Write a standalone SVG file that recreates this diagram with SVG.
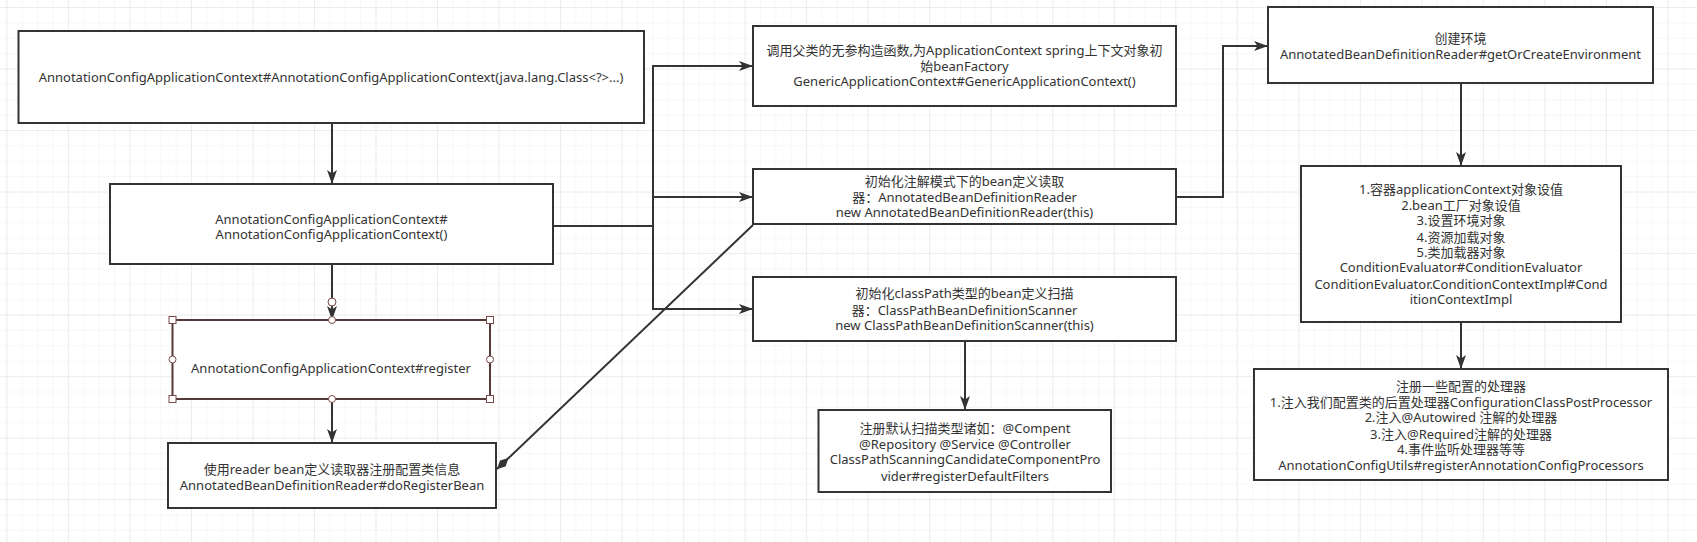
<svg xmlns="http://www.w3.org/2000/svg" width="1697" height="542" viewBox="0 0 1697 542">
<defs>
<pattern id="minor" x="6.4" y="7" width="15.38" height="15.38" patternUnits="userSpaceOnUse">
<path d="M0,0 L15.38,0 M0,0 L0,15.38" fill="none" stroke="#efefef" stroke-width="1"/>
</pattern>
<pattern id="major" x="6.4" y="7" width="61.52" height="61.52" patternUnits="userSpaceOnUse">
<path d="M0,0 L61.52,0 M0,0 L0,61.52" fill="none" stroke="#e3e3e3" stroke-width="1"/>
</pattern>
<marker id="arrow" markerUnits="userSpaceOnUse" markerWidth="16" markerHeight="12" refX="14" refY="5" orient="auto" overflow="visible">
<path d="M0,0 L14,5 L0,10 L3.5,5 Z" fill="#333"/>
</marker>
<marker id="diamond" markerUnits="userSpaceOnUse" markerWidth="18" markerHeight="10" refX="16" refY="4" orient="auto" overflow="visible">
<path d="M0,4 L8,0 L16,4 L8,8 Z" fill="#333"/>
</marker>
<style>
.box{fill:#fff;stroke:#333;stroke-width:2}
.sel{fill:#fff;stroke:#553838;stroke-width:2}
.h{fill:#fff;stroke:#7a4a4a;stroke-width:1}
.t{font-family:"Noto Sans","Noto Sans CJK SC",sans-serif;font-size:13px;fill:#333;text-anchor:middle}
.c{fill:none;stroke:#333;stroke-width:2}
</style>
</defs>
<rect width="1697" height="542" fill="#fff"/>
<rect width="1697" height="542" fill="url(#minor)"/>
<rect width="1697" height="542" fill="url(#major)"/>

<g id="connectors">
<path class="c" d="M332,123 L332,184" marker-end="url(#arrow)"/>
<path class="c" d="M332,264 L332,320" marker-end="url(#arrow)"/>
<path class="c" d="M332,399 L332,443" marker-end="url(#arrow)"/>
<path class="c" d="M553,226 L653,226 L653,66 L753,66" marker-end="url(#arrow)"/>
<path class="c" d="M553,226 L653,226 L653,197 L753,197" marker-end="url(#arrow)"/>
<path class="c" d="M553,226 L653,226 L653,309 L753,309" marker-end="url(#arrow)"/>
<path class="c" d="M1176,197 L1223,197 L1223,46 L1268,46" marker-end="url(#arrow)"/>
<path class="c" d="M965,341 L965,410" marker-end="url(#arrow)"/>
<path class="c" d="M1461,83 L1461,166" marker-end="url(#arrow)"/>
<path class="c" d="M1461,322 L1461,369" marker-end="url(#arrow)"/>
<path class="c" d="M753,225 L497,469" stroke-width="1.5" marker-end="url(#diamond)"/>
</g>

<g id="nodeA">
<rect class="box" x="18.5" y="31" width="625.5" height="92"/>
<text class="t" x="331" y="81.5">AnnotationConfigApplicationContext#AnnotationConfigApplicationContext(java.lang.Class&lt;?&gt;...)</text>
</g>

<g id="nodeB">
<rect class="box" x="110" y="184" width="443" height="80"/>
<text class="t" x="331.5" y="223.5">AnnotationConfigApplicationContext#</text>
<text class="t" x="331.5" y="238.5">AnnotationConfigApplicationContext()</text>
</g>

<g id="nodeR">
<rect class="sel" x="172.5" y="320" width="317.5" height="79"/>
<text class="t" x="331" y="372.5">AnnotationConfigApplicationContext#register</text>
<rect class="h" x="169" y="316.5" width="7" height="7"/>
<rect class="h" x="486.5" y="316.5" width="7" height="7"/>
<rect class="h" x="169" y="395.5" width="7" height="7"/>
<rect class="h" x="486.5" y="395.5" width="7" height="7"/>
<circle class="h" cx="332" cy="320" r="3.5"/>
<circle class="h" cx="332" cy="399" r="3.5"/>
<circle class="h" cx="172.5" cy="359.5" r="3.5"/>
<circle class="h" cx="490" cy="359.5" r="3.5"/>
<circle class="h" cx="332" cy="302" r="4"/>
</g>

<g id="nodeG">
<rect class="box" x="168" y="443" width="328" height="65"/>
<text class="t" x="332" y="473.5">使用reader bean定义读取器注册配置类信息</text>
<text class="t" x="332" y="489.5">AnnotatedBeanDefinitionReader#doRegisterBean</text>
</g>

<g id="nodeC">
<rect class="box" x="753" y="26" width="423" height="80"/>
<text class="t" x="964.5" y="54.5">调用父类的无参构造函数,为ApplicationContext spring上下文对象初</text>
<text class="t" x="964.5" y="70.5">始beanFactory</text>
<text class="t" x="964.5" y="85.5">GenericApplicationContext#GenericApplicationContext()</text>
</g>

<g id="nodeD">
<rect class="box" x="753" y="169" width="423" height="55"/>
<text class="t" x="964.5" y="185.5">初始化注解模式下的bean定义读取</text>
<text class="t" x="964.5" y="201.5">器：AnnotatedBeanDefinitionReader</text>
<text class="t" x="964.5" y="216.5">new AnnotatedBeanDefinitionReader(this)</text>
</g>

<g id="nodeE">
<rect class="box" x="753" y="277" width="423" height="64"/>
<text class="t" x="964.5" y="297.5">初始化classPath类型的bean定义扫描</text>
<text class="t" x="964.5" y="314.5">器：ClassPathBeanDefinitionScanner</text>
<text class="t" x="964.5" y="329.5">new ClassPathBeanDefinitionScanner(this)</text>
</g>

<g id="nodeF">
<rect class="box" x="818.5" y="410" width="292.5" height="82"/>
<text class="t" x="965" y="432.5">注册默认扫描类型诸如：@Compent</text>
<text class="t" x="965" y="448.5">@Repository @Service @Controller</text>
<text class="t" x="965" y="463.5">ClassPathScanningCandidateComponentPro</text>
<text class="t" x="965" y="480.5">vider#registerDefaultFilters</text>
</g>

<g id="nodeH">
<rect class="box" x="1268" y="7" width="385" height="76"/>
<text class="t" x="1460.5" y="42.5">创建环境</text>
<text class="t" x="1460.5" y="58.5">AnnotatedBeanDefinitionReader#getOrCreateEnvironment</text>
</g>

<g id="nodeI">
<rect class="box" x="1301" y="166" width="320" height="156"/>
<text class="t" x="1461" y="193.5">1.容器applicationContext对象设值</text>
<text class="t" x="1461" y="209.5">2.bean工厂对象设值</text>
<text class="t" x="1461" y="224.5">3.设置环境对象</text>
<text class="t" x="1461" y="241.5">4.资源加载对象</text>
<text class="t" x="1461" y="256.5">5.类加载器对象</text>
<text class="t" x="1461" y="271.5">ConditionEvaluator#ConditionEvaluator</text>
<text class="t" x="1461" y="288.5">ConditionEvaluator.ConditionContextImpl#Cond</text>
<text class="t" x="1461" y="303.5">itionContextImpl</text>
</g>

<g id="nodeJ">
<rect class="box" x="1254" y="369" width="414" height="111"/>
<text class="t" x="1461" y="390.5">注册一些配置的处理器</text>
<text class="t" x="1461" y="406.5">1.注入我们配置类的后置处理器ConfigurationClassPostProcessor</text>
<text class="t" x="1461" y="421.5">2.注入@Autowired 注解的处理器</text>
<text class="t" x="1461" y="438.5">3.注入@Required注解的处理器</text>
<text class="t" x="1461" y="453.5">4.事件监听处理器等等</text>
<text class="t" x="1461" y="469.5">AnnotationConfigUtils#registerAnnotationConfigProcessors</text>
</g>
</svg>
